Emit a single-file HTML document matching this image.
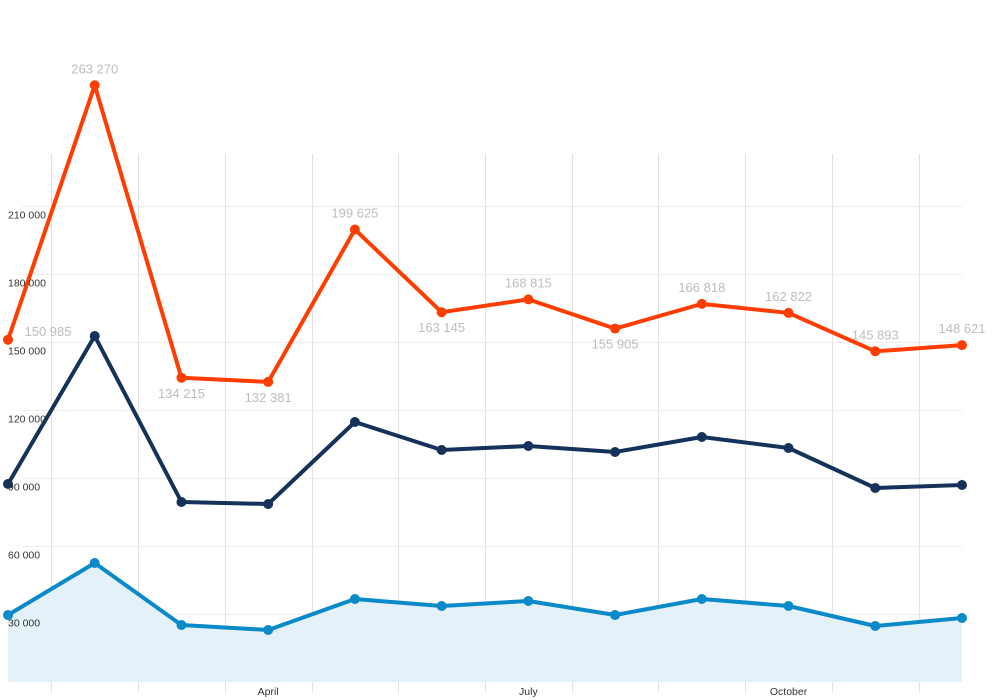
<!DOCTYPE html>
<html><head><meta charset="utf-8"><style>
html,body{margin:0;padding:0;background:#fff;}
svg{display:block;font-family:"Liberation Sans",sans-serif;}
</style></head><body>
<svg id="chart" width="1000" height="700" viewBox="0 0 1000 700" xmlns="http://www.w3.org/2000/svg">
<g id="grid"></g>
<g id="series"></g>
<g id="labels"></g>
</svg>
<script>
const months = ["January","February","March","April","May","June","July","August","September","October","November","December"];
const xTickLabels = ["April","July","October"];
const xTickIndex = [3,6,9];
const yTicks = [30000,60000,90000,120000,150000,180000,210000];
const orangeValues = [150985,263270,134215,132381,199625,163145,168815,155905,166818,162822,145893,148621];
const orangeLabelBelow = [false,false,true,true,false,true,false,true,false,false,false,false];
const navyValues = [87353,152647,79412,78529,114706,102353,104118,101471,108088,103235,85588,86912];
const blueValues = [29559,52500,25147,22941,36618,33529,35735,29559,36618,33529,24706,28235];

const NS="http://www.w3.org/2000/svg";
const x0=8,x1=962,y0=682,pxPer=68/30000;
function xs(i){return x0+i*(x1-x0)/(months.length-1);}
function ys(v){return y0-v*pxPer;}
function mk(tag,attrs,parent){const e=document.createElementNS(NS,tag);for(const k in attrs)e.setAttribute(k,attrs[k]);parent.appendChild(e);return e;}
function fmt(v){return String(v).replace(/\B(?=(\d{3})+(?!\d))/g," ");}
const grid=document.getElementById('grid'),ser=document.getElementById('series'),lab=document.getElementById('labels');

for(let i=0;i<months.length-1;i++){
  const gx=Math.round((xs(i)+xs(i+1))/2)+0.5;
  const l=mk('line',{x1:gx,x2:gx,y1:154,y2:693,stroke:'#e2e2e2','stroke-width':1},grid);
  
  
}
yTicks.forEach(v=>{
  const gy=Math.round(ys(v))+0.5;
  const l=mk('line',{x1:22,x2:962,y1:gy,y2:gy,stroke:'#ececec','stroke-width':1},grid);
  
  
  const t=mk('text',{x:8,y:gy+12,'font-size':10.5,fill:'#333'},lab);
  t.textContent=fmt(v);
  
  
});
const ax=mk('line',{x1:22,x2:962,y1:681.5,y2:681.5,stroke:'#333','stroke-width':1},grid);


xTickLabels.forEach((s,k)=>{
  const t=mk('text',{x:xs(xTickIndex[k]),y:695,'font-size':10.5,fill:'#333','text-anchor':'middle'},lab);
  t.textContent=s;
  
  
});

// area for blue
let ad='M'+xs(0)+','+y0;
blueValues.forEach((v,i)=>{ad+=' L'+xs(i)+','+ys(v);});
ad+=' L'+xs(blueValues.length-1)+','+y0+' Z';
const area=mk('path',{d:ad,fill:'#e4f1f8'},ser);



function drawLine(vals,color,name){
  const d=vals.map((v,i)=>(i?'L':'M')+xs(i)+','+ys(v)).join(' ');
  const p=mk('path',{d:d,fill:'none',stroke:color,'stroke-width':4,'stroke-linejoin':'round'},ser);
  
  
  vals.forEach((v,i)=>{
    const c=mk('circle',{cx:xs(i),cy:ys(v),r:5,fill:color},ser);
    
    
  });
}
drawLine(blueValues,'#0a8ac8','blue-series');
drawLine(navyValues,'#15335a','navy-series');
drawLine(orangeValues,'#ff3d00','orange-series');

orangeValues.forEach((v,i)=>{
  let tx=xs(i),ty=ys(v)-12;
  if(orangeLabelBelow[i])ty=ys(v)+20;
  if(i===0){tx=xs(i)+40;ty=ys(v)-4;}
  const t=mk('text',{x:tx,y:ty,'font-size':13,fill:'#bdbdbd','text-anchor':'middle'},lab);
  t.textContent=fmt(v);
  
  
});
</script>
</body></html>
